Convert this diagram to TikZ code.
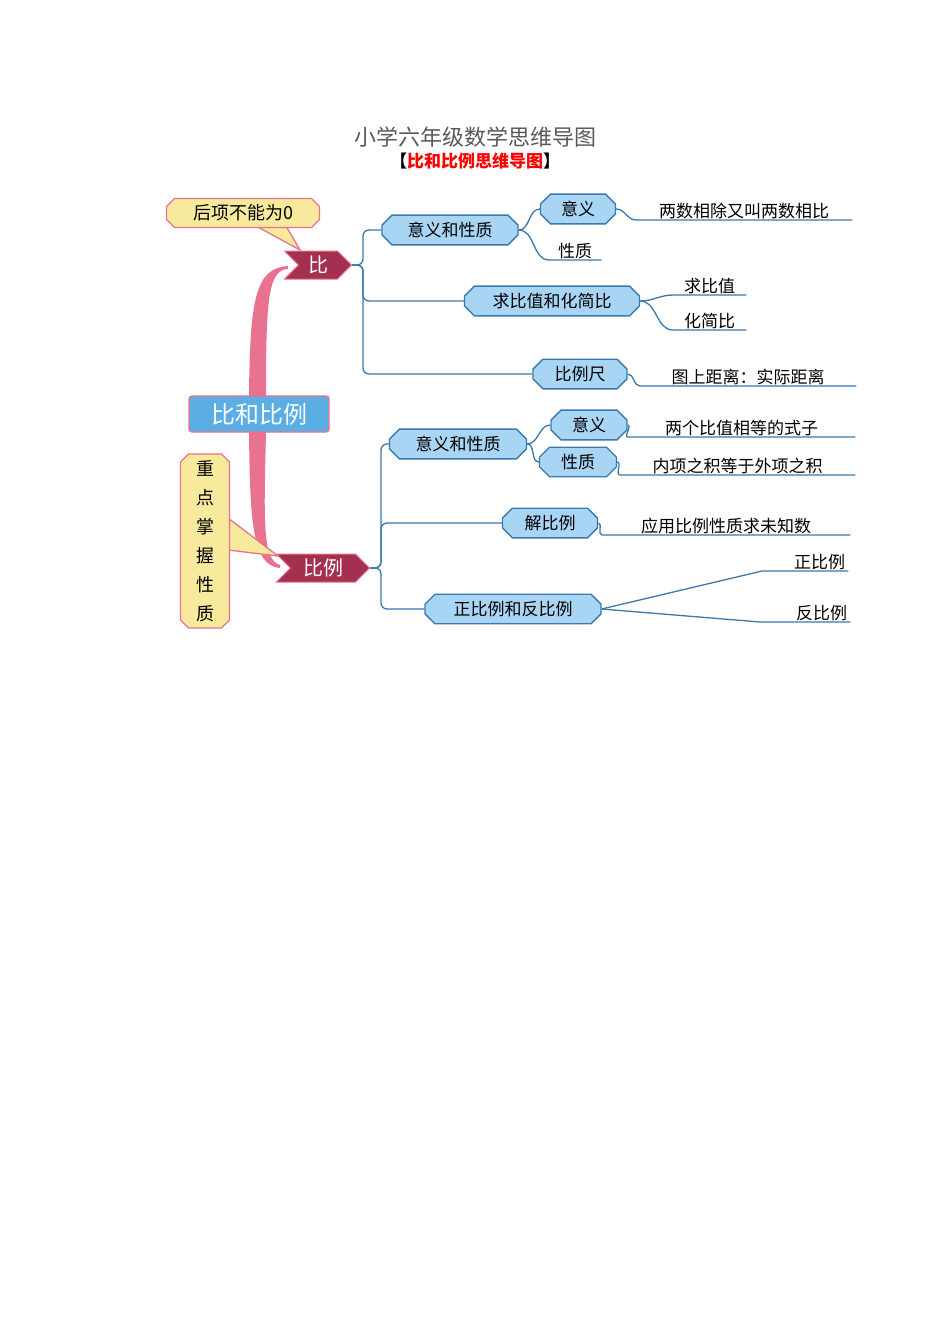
\documentclass[tikz,border=0pt]{standalone}
\usepackage{fontspec}
\setmainfont{Noto Sans CJK SC}
\usetikzlibrary{shapes.misc,shapes.symbols}
\definecolor{lb}{HTML}{A9D5F5}
\definecolor{lbd}{HTML}{3A78AE}
\definecolor{dr}{HTML}{A3304F}
\definecolor{pk}{HTML}{E8728F}
\definecolor{yl}{HTML}{F8EA9C}
\definecolor{bl}{HTML}{5AAEE3}
\begin{document}
\begin{tikzpicture}[x=1pt,y=-1pt,
  sub/.style={chamfered rectangle,chamfered rectangle xsep=2cm,chamfered rectangle sep=5pt,fill=lb,draw=lbd,line width=1.3pt,font=\fontsize{17}{17}\selectfont,inner ysep=2pt,inner xsep=6pt,minimum height=24pt},
  leaf/.style={font=\fontsize{17}{17}\selectfont,inner sep=1pt,anchor=south west},
  chev/.style={signal,signal to=east,signal from=west,fill=dr,draw=pk,line width=1pt,text=white,font=\fontsize{20}{20}\selectfont,minimum height=28pt,inner xsep=4pt},
  con/.style={lbd,line width=1.3pt},
  call/.style={fill=yl,draw=pk,line width=1.3pt}]
\useasboundingbox (0,0) rectangle (950,1344);
\node[text=black!65,font=\fontsize{22}{22}\selectfont] (title) at (475,137) {小学六年级数学思维导图};
\node[font=\bfseries\fontsize{17}{17}\selectfont] (sub) at (475,161) {【\textcolor{red}{比和比例思维导图}】};
% trunk
\node[fill=bl,draw=pk,line width=1.3pt,rounded corners=3pt,text=white,font=\fontsize{24}{24}\selectfont,minimum width=140pt,minimum height=36pt,inner sep=0] (root) at (259,414) {比和比例};
\fill[pk] (249,396) .. controls (250,300) and (255,268) .. (288,266) -- (288,269) .. controls (268,270) and (266,300) .. (266,396) -- cycle;
\fill[pk] (249,432) .. controls (250,520) and (252,566) .. (280,568) -- (280,565) .. controls (262,560) and (264,520) .. (266,432) -- cycle;
% callouts
\fill[call] (256,226) -- (300,250) -- (286,226) -- cycle;
\node[call,chamfered rectangle,chamfered rectangle sep=4pt,minimum width=153pt,minimum height=29pt,font=\fontsize{18}{18}\selectfont,inner sep=0] (c1) at (243,213) {后项不能为0};
\fill[call] (228,518) -- (278,556) -- (228,550) -- cycle;
\node[call,chamfered rectangle,chamfered rectangle sep=4pt,minimum width=49pt,minimum height=174pt,font=\fontsize{18}{29}\selectfont,inner sep=0,align=center] (c2) at (205,541) {重\\点\\掌\\握\\性\\质};
\node[chev,minimum width=67pt] (bi) at (318,265) {比};
\node[chev,minimum width=93pt] (bili) at (323,568) {比例};
% upper branch
\node[sub,minimum width=136pt] (a1) at (450,230) {意义和性质};
\node[sub,minimum width=175pt] (a2) at (552,301) {求比值和化简比};
\node[sub,minimum width=94pt] (a3) at (580,374) {比例尺};
\node[sub,minimum width=75pt] (a11) at (578,209) {意义};
\node[leaf,minimum width=52pt] (a12) at (549,260) {性质};
\node[leaf,minimum width=216pt] (a111) at (636,220) {两数相除又叫两数相比};
\node[leaf,minimum width=73pt] (a21) at (673,295) {求比值};
\node[leaf,minimum width=73pt] (a22) at (673,330) {化简比};
\node[leaf,minimum width=216pt] (a31) at (640,386) {图上距离：实际距离};
\draw[con,rounded corners=6pt] (bi.east) -- (363,265) |- (a1.west);
\draw[con,rounded corners=6pt] (bi.east) -- (363,265) |- (a2.west);
\draw[con,rounded corners=6pt] (bi.east) -- (363,265) |- (a3.west);
\draw[con] (a1.east) to[out=0,in=180] (a11.west);
\draw[con] (a1.east) to[out=0,in=180] (a12.south west) -- (a12.south east);
\draw[con] (a11.east) to[out=0,in=180] (a111.south west) -- (a111.south east);
\draw[con] (a2.east) to[out=0,in=180] (a21.south west) -- (a21.south east);
\draw[con] (a2.east) to[out=0,in=180] (a22.south west) -- (a22.south east);
\draw[con] (a3.east) to[out=0,in=180] (a31.south west) -- (a31.south east);
% lower branch
\node[sub,minimum width=137pt] (b1) at (458,444) {意义和性质};
\node[sub,minimum width=95pt] (b2) at (550,523) {解比例};
\node[sub,minimum width=176pt] (b3) at (513,609) {正比例和反比例};
\node[sub,minimum width=76pt] (b11) at (589,425) {意义};
\node[sub,minimum width=77pt] (b12) at (578,462) {性质};
\node[leaf,minimum width=227pt] (b111) at (628,437) {两个比值相等的式子};
\node[leaf,minimum width=235pt] (b121) at (620,475) {内项之积等于外项之积};
\node[leaf,minimum width=248pt] (b21) at (602,535) {应用比例性质求未知数};
\node[leaf,minimum width=86pt,align=right,text width=80pt] (b31) at (762,571) {正比例};
\node[leaf,minimum width=90pt,align=right,text width=84pt] (b32) at (760,622) {反比例};
\draw[con,rounded corners=6pt] (bili.east) -- (381,568) |- (b1.west);
\draw[con,rounded corners=6pt] (bili.east) -- (381,568) |- (b2.west);
\draw[con,rounded corners=6pt] (bili.east) -- (381,568) |- (b3.west);
\draw[con] (b1.east) to[out=0,in=180] (b11.west);
\draw[con] (b1.east) to[out=0,in=180] (b12.west);
\draw[con] (b11.east) to[out=0,in=180] (b111.south west) -- (b111.south east);
\draw[con] (b12.east) to[out=0,in=180] (b121.south west) -- (b121.south east);
\draw[con] (b2.east) to[out=0,in=180] (b21.south west) -- (b21.south east);
\draw[con] (b3.east) -- (b31.south west) -- (b31.south east);
\draw[con] (b3.east) -- (b32.south west) -- (b32.south east);
\end{tikzpicture}
\end{document}
